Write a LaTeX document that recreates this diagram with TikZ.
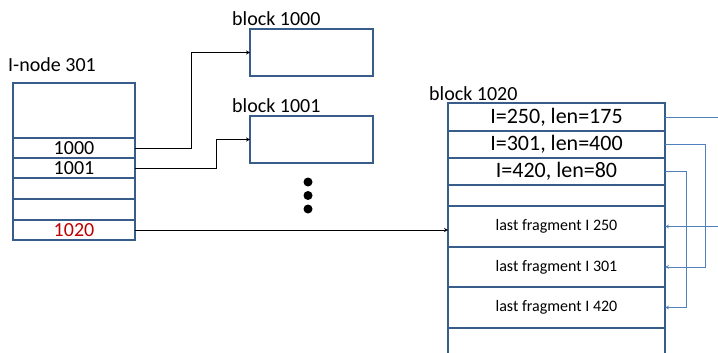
\documentclass[tikz,border=0pt]{standalone}
\usepackage{fontspec}
\setmainfont{Carlito}
\usetikzlibrary{calc}
\definecolor{boxblue}{RGB}{56,93,138}
\definecolor{linkblue}{RGB}{79,129,189}
\definecolor{numred}{RGB}{192,0,0}

\begin{document}
\begin{tikzpicture}[x=1pt,y=-1pt,
  cell/.style={draw=boxblue,line width=1.5pt,inner sep=0pt,outer sep=0pt,minimum width=122pt,font=\fontsize{20}{20}\selectfont},
  fcell/.style={draw=boxblue,line width=1.5pt,inner sep=0pt,outer sep=0pt,minimum width=217pt,font=\fontsize{22}{22}\selectfont},
  frag/.style={fcell,font=\fontsize{16}{16}\selectfont},
  lbl/.style={anchor=base west,inner sep=0pt,font=\fontsize{20}{20}\selectfont},
  link/.style={line width=0.8pt,->,>=stealth},
  blink/.style={draw=linkblue,line width=0.8pt,->,>=stealth}]

  \clip (0,0) rectangle (718,353);
  \fill[white] (0,0) rectangle (718,353);

  % I-node 301
  \node[lbl] (inlabel) at (8,72) {I-node 301}; %ラベル
  \node[cell,minimum height=55pt] (in0) at (74,110.5) {};
  \node[cell,minimum height=20pt] (in1) at (74,148) {1000};
  \node[cell,minimum height=20pt] (in2) at (74,168) {1001};
  \node[cell,minimum height=21pt] (in3) at (74,188.5) {};
  \node[cell,minimum height=21pt] (in4) at (74,209.5) {};
  \node[cell,minimum height=20pt,text=numred] (in5) at (74,230) {1020};

  % block 1000, block 1001
  \node[lbl] (lbl1000) at (232,26) {block 1000};
  \node[draw=boxblue,line width=1.5pt,minimum width=123pt,minimum height=47pt,outer sep=0pt] (blk1000) at (311.5,52.5) {};
  \node[lbl] (lbl1001) at (232,113) {block 1001};
  \node[draw=boxblue,line width=1.5pt,minimum width=123pt,minimum height=47pt,outer sep=0pt] (blk1001) at (311.5,139.5) {};

  % ...
  \fill (308,182) circle (4.5);
  \fill (308,195.5) circle (4.5);
  \fill (308,209) circle (4.5);

  % block 1020
  \node[lbl] (lbl1020) at (429,100) {block 1020};
  \node[fcell,minimum height=28pt] (b0) at (556.5,117) {I=250, len=175};
  \node[fcell,minimum height=27pt] (b1) at (556.5,144.5) {I=301, len=400};
  \node[fcell,minimum height=27pt] (b2) at (556.5,171.5) {I=420, len=80};
  \node[fcell,minimum height=21pt] (b3) at (556.5,195.5) {};
  \node[frag,minimum height=41pt] (f0) at (556.5,226.5) {last fragment I 250};
  \node[frag,minimum height=40pt] (f1) at (556.5,267) {last fragment I 301};
  \node[frag,minimum height=41pt] (f2) at (556.5,307.5) {last fragment I 420};
  \node[fcell,minimum height=40pt] (f3) at (556.5,348) {};

  % I-node -> blocks
  \draw[link] (in1.east) -- ++(56,0) |- (blk1000.west);
  \draw[link] (in2.east) -- ++(81,0) |- (blk1001.west);
  \draw[link] (in5.east) -- (in5.east -| f0.west);

  % block 1020 -> fragments
  \coordinate (outA) at (730,117);
  \coordinate (outB) at (730,226.5);
  \draw[draw=linkblue,line width=0.8pt] (b0.east) -- (outA);
  \draw[blink] (outB) -- (f0.east);
  \draw[blink] (b1.east) -- ++(40,0) |- (f1.east);
  \draw[blink] (b2.east) -- ++(21,0) |- (f2.east);

\end{tikzpicture}
\end{document}
